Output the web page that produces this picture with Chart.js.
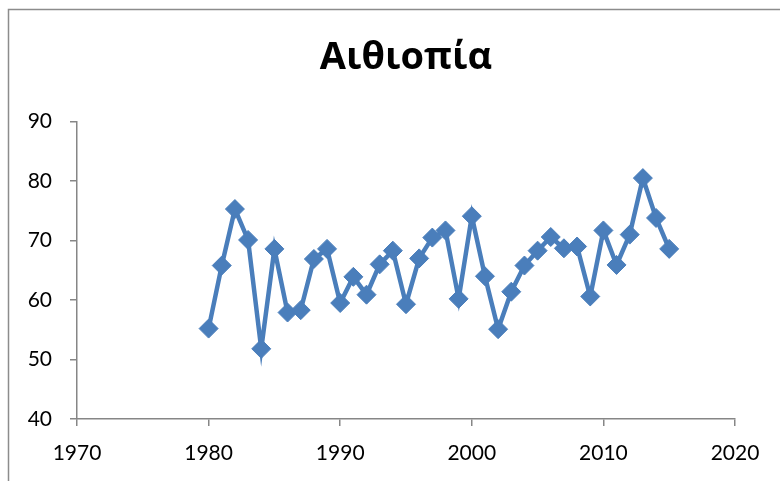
<!DOCTYPE html>
<html>
<head>
<meta charset="utf-8">
<script src="https://cdn.jsdelivr.net/npm/chart.js@4"></script>
<style>
  html, body { margin: 0; padding: 0; background: #fff; }
  #wrap { width: 780px; height: 481px; }
</style>
</head>
<body>
<div id="wrap"><canvas id="chart"></canvas></div>
<script>
const title = 'Αιθιοπία';
const years = [1980, 1981, 1982, 1983, 1984, 1985, 1986, 1987, 1988, 1989,
               1990, 1991, 1992, 1993, 1994, 1995, 1996, 1997, 1998, 1999,
               2000, 2001, 2002, 2003, 2004, 2005, 2006, 2007, 2008, 2009,
               2010, 2011, 2012, 2013, 2014, 2015];
const values = [55.2, 65.8, 75.3, 70.1, 51.8, 68.6, 57.9, 58.3, 66.9, 68.6,
                59.5, 63.9, 60.9, 66.0, 68.3, 59.3, 67.0, 70.5, 71.7, 60.2,
                74.1, 64.0, 55.1, 61.4, 65.8, 68.3, 70.6, 68.7, 69.0, 60.6,
                71.7, 65.9, 71.0, 80.5, 73.8, 68.6];
const xTicks = [1970, 1980, 1990, 2000, 2010, 2020];
const yTicks = [40, 50, 60, 70, 80, 90];

const blue = '#4a7ebb';
const axisGray = '#868686';

// gray frame of the chart area (only top and left edges show)
const frame = {
    id: 'frame',
    beforeDraw(chart) {
        const c = chart.ctx;
        c.save();
        c.strokeStyle = '#8c8c8c';
        c.lineWidth = 1.5;
        c.beginPath();
        c.moveTo(8.5, 490);
        c.lineTo(8.5, 9.5);
        c.lineTo(790, 9.5);
        c.stroke();
        c.restore();
    }
};

const ctx = document.getElementById('chart').getContext('2d');
const chart = new Chart(ctx, {
    type: 'line',
    data: {
        datasets: [{
            label: title,
            data: years.map((y, i) => ({ x: y, y: values[i] })),
            borderColor: blue,
            backgroundColor: blue,
            borderWidth: 4.5,
            pointStyle: 'rectRot',
            pointRadius: 9.5,
            pointBorderWidth: 1,
            pointBackgroundColor: blue,
            pointBorderColor: blue,
            tension: 0,
            fill: false
        }]
    },
    options: {
        responsive: true,
        maintainAspectRatio: false,
        animation: false,
        layout: { padding: { left: 0, right: 45, top: 0, bottom: 0 } },
        plugins: {
            legend: { display: false },
            tooltip: { enabled: false },
            title: {
                display: true,
                fullSize: false, // centred over the plot area
                text: title,
                color: '#000',
                font: { family: 'Open Sans', size: 38, weight: 'bold', lineHeight: 1.2 },
                padding: { top: 35, bottom: 41 }
            }
        },
        scales: {
            x: {
                type: 'linear',
                min: xTicks[0],
                max: xTicks[xTicks.length - 1],
                afterBuildTicks: s => { s.ticks = xTicks.map(v => ({ value: v })); },
                afterFit: s => { s.height = 62; },
                border: { display: true, color: axisGray, width: 1.5 },
                grid: { drawOnChartArea: false, drawTicks: true, tickLength: 7, color: axisGray, lineWidth: 1.5 },
                ticks: {
                    color: '#000',
                    padding: 15,
                    maxRotation: 0,
                    font: { family: 'Lato', size: 21 },
                    callback: v => String(v)
                }
            },
            y: {
                min: yTicks[0],
                max: yTicks[yTicks.length - 1],
                afterBuildTicks: s => { s.ticks = yTicks.map(v => ({ value: v })); },
                afterFit: s => { s.width = 77; },
                border: { display: true, color: axisGray, width: 1.5 },
                grid: { drawOnChartArea: false, drawTicks: true, tickLength: 7, color: axisGray, lineWidth: 1.5 },
                ticks: {
                    color: '#000',
                    padding: 18,
                    font: { family: 'Lato', size: 21 }
                }
            }
        }
    },
    plugins: [frame]
});
</script>
</body>
</html>
